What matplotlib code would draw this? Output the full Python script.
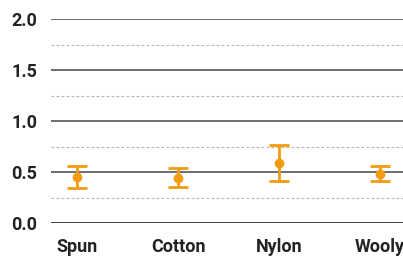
import matplotlib.pyplot as plt
import numpy as np

plt.rcParams['font.family'] = ['Roboto', 'DejaVu Sans']

categories = ['Spun', 'Cotton', 'Nylon', 'Wooly']
means = [0.45, 0.44, 0.585, 0.48]
upper = [0.56, 0.535, 0.76, 0.56]
lower = [0.34, 0.355, 0.41, 0.41]

x = np.arange(len(categories))
yerr = [np.array(means) - np.array(lower), np.array(upper) - np.array(means)]

fig = plt.figure(figsize=(4.03, 2.6), dpi=100)
ax = fig.add_axes([51/403, 37/260, 352/403, 204/260])

# grid lines
for y in [0.0, 0.5, 1.0, 1.5, 2.0]:
	ax.axhline(y, color='#555555' if y > 0 else '#222222', lw=1.2, zorder=1)
for y in [0.25, 0.75, 1.25, 1.75]:
	ax.axhline(y, color='#b5b5b5', lw=0.8, ls=(0, (2.5, 2)), zorder=1)

ax.errorbar(x, means, yerr=yerr, fmt='o', color='#f39c12', ms=6,
	elinewidth=2, capsize=7, capthick=2, zorder=3)

ax.set_xlim(-0.26, 3.23)
ax.set_ylim(0, 2.0)
ax.set_yticks([0.0, 0.5, 1.0, 1.5, 2.0])
ax.set_yticklabels(['0.0', '0.5', '1.0', '1.5', '2.0'])
ax.set_xticks(x)
ax.set_xticklabels(categories)
ax.tick_params(length=0, labelsize=13, colors='#222222', pad=10)
ax.tick_params(axis='x', pad=11)
for lab in ax.get_xticklabels() + ax.get_yticklabels():
	lab.set_fontweight('bold')
for s in ax.spines.values():
	s.set_visible(False)
ax.patch.set_alpha(0)

fig.savefig('out.png', dpi=100)
